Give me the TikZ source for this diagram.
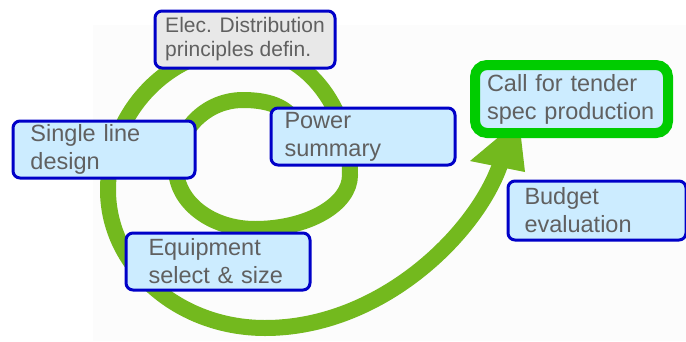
\documentclass[tikz,border=0pt]{standalone}
\usepackage{fontspec}
\setmainfont{Liberation Sans}
\usepackage{tikz}
\usetikzlibrary{arrows.meta}

\definecolor{ringgreen}{HTML}{73B91E}
\definecolor{tendergreen}{HTML}{00CC00}
\definecolor{stageblue}{HTML}{0000C8}
\definecolor{stagefill}{HTML}{CCECFF}
\definecolor{stagegray}{HTML}{E8E8E8}
\definecolor{stagetext}{HTML}{606060}
\definecolor{backfill}{HTML}{FCFCFC}

\begin{document}
\begin{tikzpicture}[x=1pt,y=-1pt,
            spiral/.style={draw=ringgreen,line width=16pt,line cap=butt},
            stage/.style={draw=stageblue,line width=3pt,rounded corners=7pt,
                fill=stagefill,text=stagetext,align=left,anchor=north west,
                inner ysep=0pt,font=\fontsize{23.5}{28}\selectfont},
            tender/.style={stage,draw=tendergreen,line width=10pt,rounded corners=12pt}]
            \useasboundingbox (0,0) rectangle (686,341);
            \fill[backfill] (93,25) rectangle (686,341);

            \draw[spiral] (298,128) .. controls (290,105) and (265,100) .. (243,100)
                .. controls (206,100) and (176,130) .. (176,168)
                .. controls (176,202) and (211,229) .. (255,229)
                .. controls (307,229) and (350,205) .. (350,175)
                .. controls (350,105) and (303,48) .. (245,48)
                .. controls (169,48) and (108,112) .. (108,190)
                .. controls (108,266) and (178,328) .. (265,328)
                .. controls (380,328) and (475,235) .. (500,165);
            \fill[ringgreen] (470,161) -- (519,120) -- (525,172) -- cycle;

            \node[stage,fill=stagegray,font=\fontsize{21}{24}\selectfont,
                  minimum width=180pt,minimum height=57pt,inner xsep=8pt]
                  (elec) at (153.5,9.5) {Elec. Distribution\\principles defin.};
            \node[stage,minimum width=182pt,minimum height=57pt,inner xsep=17.5pt,
                  text width=147pt] (single) at (11.5,119.5) {Single line\\design};
            \node[stage,minimum width=184pt,minimum height=57pt,inner xsep=13.5pt,
                  text width=157pt] (power) at (269.5,106.5) {Power\\summary};
            \node[stage,minimum width=184pt,minimum height=57pt,inner xsep=22.5pt,
                  text width=139pt] (equip) at (124.5,231.5) {Equipment\\select \& size};
            \node[tender,minimum width=193pt,minimum height=68pt,inner xsep=12pt,
                  text width=169pt] (tender) at (470,60) {Call for tender\\spec production};
            \node[stage,minimum width=178pt,minimum height=59pt,inner xsep=16.5pt,
                  text width=145pt] (budget) at (506.5,179.5) {Budget\\evaluation};
        \end{tikzpicture}
\end{document}
